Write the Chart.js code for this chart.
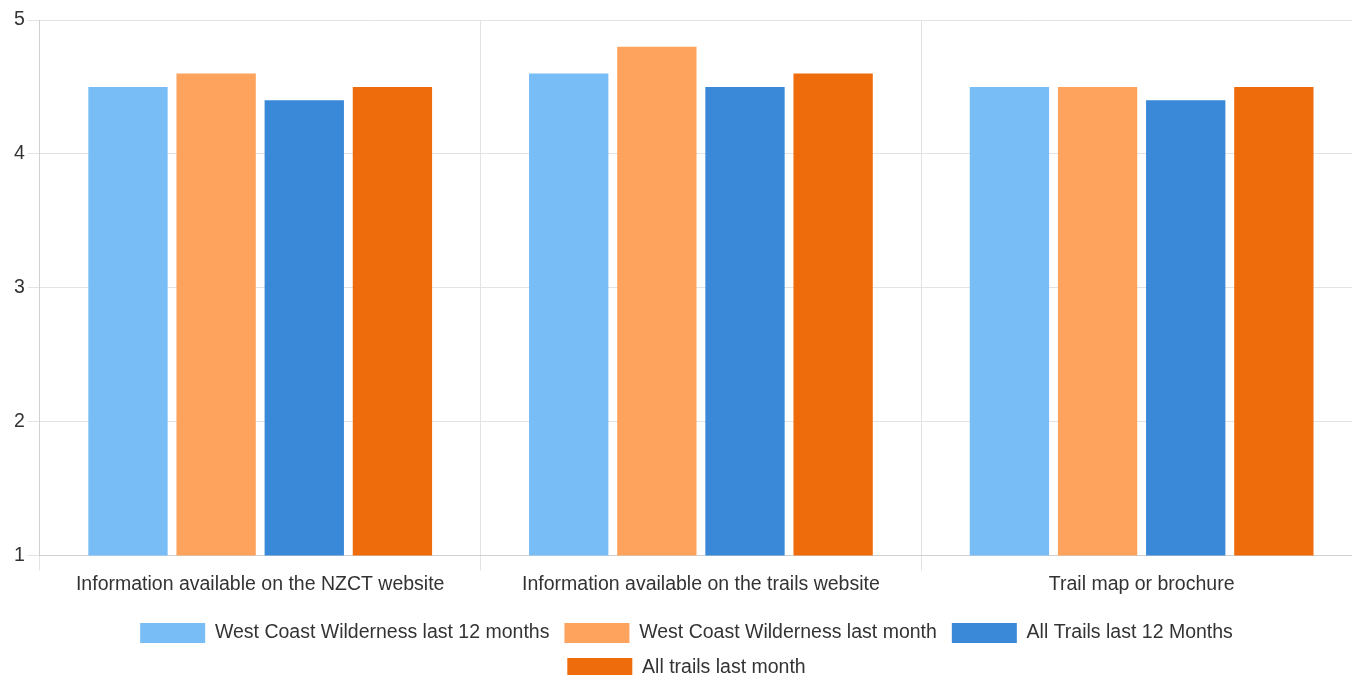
<!DOCTYPE html>
<html>
<head>
<meta charset="utf-8">
<script src="https://cdn.jsdelivr.net/npm/chart.js@4/dist/chart.umd.min.js"></script>
<style>
html,body{margin:0;padding:0;background:#fff;overflow:hidden;}
#wrap{width:1362px;height:688px;position:relative;}
</style>
</head>
<body>
<div id="wrap"><canvas id="c" width="1362" height="688"></canvas></div>
<script>
const categories = ["Information available on the NZCT website", "Information available on the trails website", "Trail map or brochure"];
const seriesNames = ["West Coast Wilderness last 12 months", "West Coast Wilderness last month", "All Trails last 12 Months", "All trails last month"];
const wcwLast12 = [4.5, 4.6, 4.5];
const wcwLastMonth = [4.6, 4.8, 4.5];
const allLast12 = [4.4, 4.5, 4.4];
const allLastMonth = [4.5, 4.6, 4.5];
const yTicks = [1, 2, 3, 4, 5];

const colors = ["#78bdf6", "#fea35d", "#3a88d8", "#ef6c0d"];
const values = [wcwLast12, wcwLastMonth, allLast12, allLastMonth];
const FONT = 'Liberation Sans, Arial, sans-serif';

new Chart(document.getElementById('c'), {
  type: 'bar',
  data: {
    labels: categories,
    datasets: seriesNames.map((n, i) => ({
      label: n,
      data: values[i],
      backgroundColor: colors[i],
      borderWidth: 0,
      categoryPercentage: 0.8,
      barPercentage: 0.9
    }))
  },
  options: {
    responsive: false,
    animation: false,
    layout: { padding: { top: 20, left: 11, right: 0, bottom: 0 } },
    plugins: {
      tooltip: { enabled: false },
      legend: {
        position: 'bottom',
        labels: {
          boxWidth: 65,
          boxHeight: 20,
          padding: 15,
          color: '#333',
          font: { family: FONT, size: 19.5 }
        }
      }
    },
    scales: {
      x: {
        afterFit: (axis) => { axis.height += 10; },
        grid: { color: '#e3e3e3', tickLength: 15, offset: true, drawTicks: true },
        border: { color: '#d0d0d0' },
        ticks: { color: '#333', font: { family: FONT, size: 19.5 }, padding: 2, maxRotation: 0 }
      },
      y: {
        min: 1, max: 5,
        afterBuildTicks: (axis) => { axis.ticks = yTicks.map(v => ({ value: v })); },
        grid: { color: '#e3e3e3', tickLength: 12 },
        border: { color: '#d0d0d0' },
        ticks: { color: '#333', font: { family: FONT, size: 19.5 }, padding: 3 }
      }
    }
  }
});
</script>
</body>
</html>
